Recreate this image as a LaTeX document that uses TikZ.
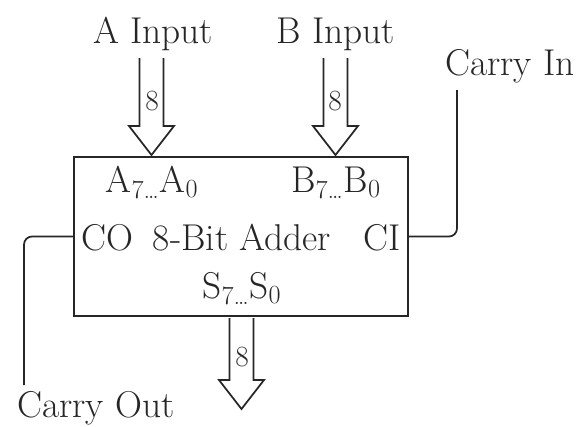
\documentclass[tikz,border=0pt]{standalone}
\usepackage{fontspec}
\definecolor{ink}{RGB}{38,38,38}
\usetikzlibrary{positioning,calc}
\tikzset{
  lbl/.style={font=\fontsize{28}{32}\selectfont, text=ink, inner sep=0pt, anchor=base},
  buswidth/.style={font=\fontsize{22}{24}\selectfont, text=ink, inner sep=0pt},
  bus/.style={draw=ink, line width=1.3pt, line join=miter},
  wire/.style={draw=ink, line width=1.3pt, rounded corners=6pt},
}

\begin{document}
\begin{tikzpicture}[x=0.75pt,y=0.75pt,yscale=-1,xscale=1]
	\useasboundingbox (0,0) rectangle (582,426);
	
	%Shape: Rectangle [id:adder]
	\node [draw=ink, line width=1.5pt, minimum width=250.5pt, minimum height=119.25pt, inner sep=0pt] (adder) at (241,236.5) {};
	
	% Text Node
	\node [lbl] (alabel) at (152,192) {A\textsubscript{7\ldots}A\textsubscript{0}};
	% Text Node
	\node [lbl] (blabel) at (336,192) {B\textsubscript{7\ldots}B\textsubscript{0}};
	% Text Node
	\node [lbl] (colabel) at (107,250) {CO};
	% Text Node
	\node [lbl] (title) at (242,250) {8-Bit Adder};
	% Text Node
	\node [lbl] (cilabel) at (382,250) {CI};
	% Text Node
	\node [lbl] (slabel) at (242,298) {S\textsubscript{7\ldots}S\textsubscript{0}};
	
	% Text Node
	\node [lbl] (ainput) at (153,43) {A Input};
	% Text Node
	\node [lbl] (binput) at (336,43) {B Input};
	% Text Node
	\node [lbl] (carryin) at (510,75) {Carry In};
	% Text Node
	\node [lbl] (carryout) at (96,417) {Carry Out};
	
	%Bus arrows
	\coordinate (atop) at (151.5,58);
	\coordinate (atip) at ($(atop |- adder.north)+(0,-1)$);
	\coordinate (btop) at (335.5,58);
	\coordinate (btip) at ($(btop |- adder.north)+(0,-1)$);
	\coordinate (stop) at ($(241.5,0 |- adder.south)+(0,1)$);
	\coordinate (stip) at (241.5,409);
	
	\draw [bus] ($(atop)+(-12,0)$) -- ($(atip)+(-12,-29)$) -- ++(-10.5,0) -- (atip) -- ++(22.5,-29) -- ++(-10.5,0) -- ($(atop)+(12,0)$);
	\draw [bus] ($(btop)+(-12,0)$) -- ($(btip)+(-12,-29)$) -- ++(-10.5,0) -- (btip) -- ++(22.5,-29) -- ++(-10.5,0) -- ($(btop)+(12,0)$);
	\draw [bus] ($(stop)+(-12,0)$) -- ($(stip)+(-12,-29)$) -- ++(-10.5,0) -- (stip) -- ++(22.5,-29) -- ++(-10.5,0) -- ($(stop)+(12,0)$);
	
	% Text Node
	\node [buswidth] (awidth) at (152,101) {8};
	% Text Node
	\node [buswidth] (bwidth) at (335,101) {8};
	% Text Node
	\node [buswidth] (swidth) at (242,357) {8};
	
	%Carry lines
	\coordinate (cout) at (24,385);
	\coordinate (cin) at (457,90);
	\draw [wire] (adder.west) -| (cout);
	\draw [wire] (adder.east) -| (cin);
	
\end{tikzpicture}
\end{document}
